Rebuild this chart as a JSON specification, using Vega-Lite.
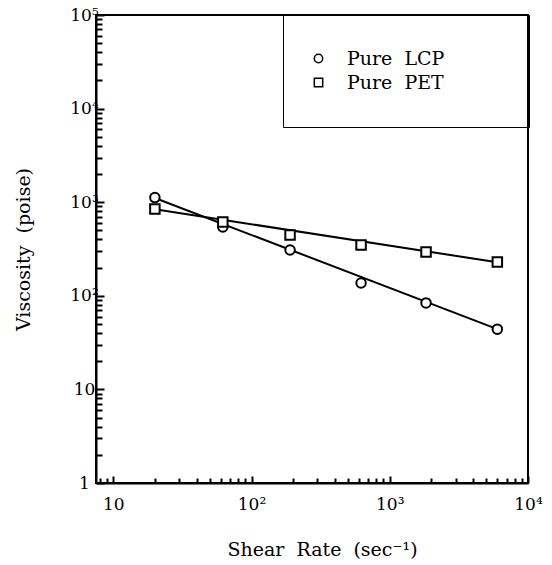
{
  "$schema": "https://vega.github.io/schema/vega-lite/v6.json",
  "width": 432,
  "height": 468,
  "autosize": "none",
  "padding": {"left": 96, "top": 15, "right": 24, "bottom": 82},
  "background": "white",
  "config": {
    "font": "DejaVu Serif",
    "view": {"stroke": "black", "strokeWidth": 2},
    "axis": {
      "grid": false,
      "domainColor": "black",
      "domainWidth": 2,
      "tickColor": "black",
      "tickWidth": 2,
      "labelColor": "black",
      "titleColor": "black",
      "labelFont": "DejaVu Serif",
      "titleFont": "DejaVu Serif",
      "labelFontSize": 17,
      "titleFontSize": 19,
      "titleFontWeight": "normal",
      "labelOverlap": false,
      "labelFlush": false,
      "labelBound": false
    }
  },
  "datasets": {
    "measured": [
      {"series": "Pure LCP", "rate": 20, "viscosity": 1120},
      {"series": "Pure LCP", "rate": 62, "viscosity": 543},
      {"series": "Pure LCP", "rate": 190, "viscosity": 309},
      {"series": "Pure LCP", "rate": 620, "viscosity": 137},
      {"series": "Pure LCP", "rate": 1830, "viscosity": 84},
      {"series": "Pure LCP", "rate": 6000, "viscosity": 44},
      {"series": "Pure PET", "rate": 20, "viscosity": 846},
      {"series": "Pure PET", "rate": 62, "viscosity": 614},
      {"series": "Pure PET", "rate": 190, "viscosity": 446},
      {"series": "Pure PET", "rate": 620, "viscosity": 349},
      {"series": "Pure PET", "rate": 1830, "viscosity": 294},
      {"series": "Pure PET", "rate": 6000, "viscosity": 230}
    ],
    "fit": [
      {"series": "Pure LCP", "rate": 20, "viscosity": 1110},
      {"series": "Pure LCP", "rate": 6000, "viscosity": 44},
      {"series": "Pure PET", "rate": 20, "viscosity": 840},
      {"series": "Pure PET", "rate": 6000, "viscosity": 228}
    ]
  },
  "encoding": {
    "x": {
      "field": "rate",
      "type": "quantitative",
      "scale": {"type": "log", "domain": [7.5, 10000], "nice": false},
      "axis": {
        "title": "Shear\u00a0\u00a0Rate\u00a0\u00a0(sec⁻¹)",
        "titlePadding": 26,
        "titleX": 226,
        "values": [8, 9, 10, 20, 30, 40, 50, 60, 70, 80, 90, 100, 200, 300, 400, 500, 600, 700, 800, 900, 1000, 2000, 3000, 4000, 5000, 6000, 7000, 8000, 9000, 10000],
        "labelExpr": "datum.value == 10 ? '10' : datum.value == 100 ? '10²' : datum.value == 1000 ? '10³' : datum.value == 10000 ? '10⁴' : ''",
        "tickSize": {"condition": {"test": "indexof([10, 100, 1000, 10000], datum.value) >= 0", "value": -7}, "value": -5},
        "labelPadding": 20
      }
    },
    "y": {
      "field": "viscosity",
      "type": "quantitative",
      "scale": {"type": "log", "domain": [1, 100000], "nice": false},
      "axis": {
        "title": "Viscosity\u00a0\u00a0(poise)",
        "titlePadding": 36,
        "values": [1, 2, 3, 4, 5, 6, 7, 8, 9, 10, 20, 30, 40, 50, 60, 70, 80, 90, 100, 200, 300, 400, 500, 600, 700, 800, 900, 1000, 2000, 3000, 4000, 5000, 6000, 7000, 8000, 9000, 10000, 20000, 30000, 40000, 50000, 60000, 70000, 80000, 90000, 100000],
        "labelExpr": "datum.value == 1 ? '1' : datum.value == 10 ? '10' : datum.value == 100 ? '10²' : datum.value == 1000 ? '10³' : datum.value == 10000 ? '10⁴' : datum.value == 100000 ? '10⁵' : ''",
        "tickSize": {"condition": {"test": "indexof([1, 10, 100, 1000, 10000, 100000], datum.value) >= 0", "value": -8}, "value": -6},
        "labelAlign": "center",
        "labelBaseline": "middle",
        "labelPadding": 20
      }
    }
  },
  "layer": [
    {
      "data": {"name": "fit"},
      "mark": {"type": "line", "color": "black", "strokeWidth": 2},
      "encoding": {"detail": {"field": "series"}}
    },
    {
      "data": {"name": "measured"},
      "mark": {"type": "point", "filled": true, "fill": "white", "fillOpacity": 1, "stroke": "black", "strokeWidth": 2, "opacity": 1, "size": 90},
      "encoding": {
        "shape": {
          "field": "series",
          "type": "nominal",
          "scale": {"domain": ["Pure LCP", "Pure PET"], "range": ["circle", "square"]},
          "legend": {
            "title": null,
            "orient": "none",
            "legendX": 187,
            "legendY": 0,
            "padding": 34,
            "strokeColor": "black",
            "labelFont": "DejaVu Serif",
            "labelFontSize": 19,
            "labelColor": "black",
            "labelOffset": 19,
            "labelLimit": 300,
            "rowPadding": 4,
            "symbolSize": 70,
            "symbolOffset": -8,
            "labelExpr": "replace(datum.label, ' ', '\u00a0\u00a0') + '\u00a0\u00a0\u00a0\u00a0\u00a0\u00a0\u2800'",
            "encode": {
              "legend": {"update": {"strokeWidth": {"value": 2}}},
              "symbols": {"update": {"stroke": {"value": "black"}, "strokeWidth": {"value": 2.5}, "fill": {"value": "white"}, "opacity": {"value": 1}, "fillOpacity": {"value": 1}, "strokeOpacity": {"value": 1}}}
            }
          }
        }
      }
    }
  ]
}
